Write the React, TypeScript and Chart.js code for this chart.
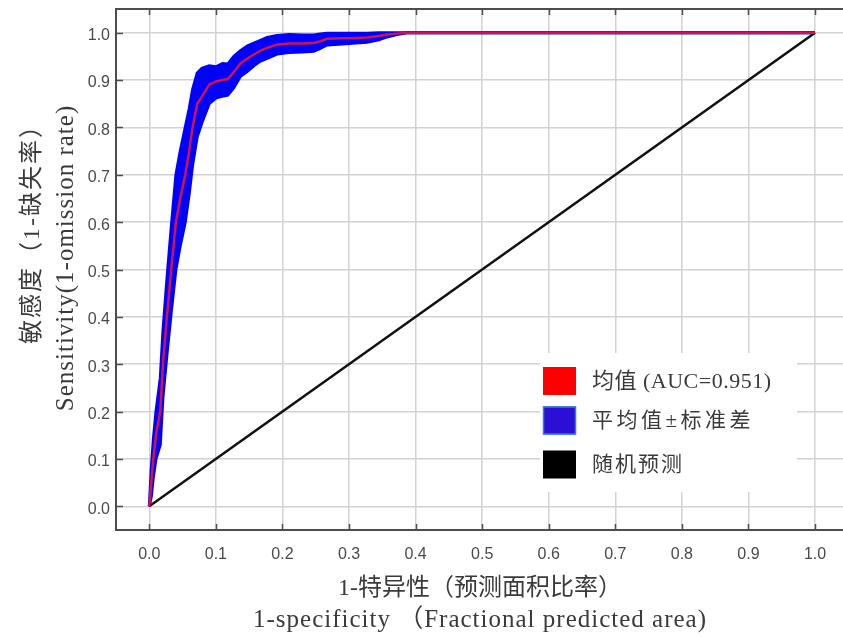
import React, { useEffect, useRef } from "react";
import { Chart, registerables } from "chart.js";

Chart.register(...registerables);

// False positive rate (1 - specificity) sampling points
const fpr = [
  0, 0.003, 0.006, 0.01, 0.0165, 0.0205, 0.0265, 0.033, 0.04, 0.0465, 0.054, 0.06, 0.065, 0.072,
  0.079, 0.09, 0.1, 0.11, 0.118, 0.127, 0.137, 0.147, 0.157, 0.167, 0.177, 0.192, 0.21, 0.23,
  0.247, 0.257, 0.267, 0.29, 0.31, 0.327, 0.345, 0.357, 0.372, 0.387, 0.4, 1.0,
];
// Mean sensitivity
const meanSens = [
  0, 0.05, 0.1, 0.15, 0.2, 0.3, 0.4, 0.5, 0.6, 0.65, 0.7, 0.75, 0.8, 0.85, 0.865, 0.89, 0.897,
  0.9, 0.902, 0.917, 0.935, 0.945, 0.954, 0.962, 0.968, 0.975, 0.977, 0.977, 0.978, 0.982, 0.987,
  0.988, 0.989, 0.99, 0.993, 0.996, 0.998, 1.0, 1.0, 1.0,
];
// Mean + standard deviation
const upperSens = [
  0, 0.08, 0.14, 0.2, 0.27, 0.37, 0.48, 0.59, 0.7, 0.75, 0.8, 0.84, 0.88, 0.915, 0.925, 0.93,
  0.928, 0.935, 0.934, 0.95, 0.962, 0.972, 0.978, 0.984, 0.99, 0.994, 0.996, 0.995, 0.995, 0.997,
  0.999, 0.999, 0.999, 0.999, 1.0, 1.0, 1.0, 1.0, 1.0, 1.0,
];
// Mean - standard deviation
const lowerSens = [
  0, 0.02, 0.06, 0.1, 0.13, 0.23, 0.32, 0.41, 0.5, 0.55, 0.6, 0.66, 0.72, 0.78, 0.81, 0.85,
  0.862, 0.866, 0.868, 0.884, 0.908, 0.918, 0.93, 0.94, 0.946, 0.955, 0.958, 0.959, 0.961, 0.967,
  0.974, 0.976, 0.978, 0.98, 0.985, 0.991, 0.996, 1.0, 1.0, 1.0,
];
// Random prediction line
const randomX = [0, 1];
const randomY = [0, 1];

const tickValues = [0, 0.1, 0.2, 0.3, 0.4, 0.5, 0.6, 0.7, 0.8, 0.9, 1.0];

const legendLabels = ["均值 (AUC=0.951)", "平均值±标准差", "随机预测"];
const legendColors = ["#ff0000", "#2a10d6", "#000000"];

const xTitleLines = ["1-特异性（预测面积比率）", "1-specificity （Fractional predicted area)"];
const yTitleLines = ["敏感度（1-缺失率）", "Sensitivity(1-omission rate)"];

const toPoints = (xs: number[], ys: number[]) => xs.map((x, i) => ({ x, y: ys[i] }));

const textColor = "#3a3a3a";

const framePlugin = {
  id: "frameAndText",
  afterDatasetsDraw(chart: any) {
    const ctx = chart.ctx as any;
    const { left, top, right, bottom } = chart.chartArea;
    const xs = chart.scales.x;
    const ys = chart.scales.y;
    ctx.save();
    // frame
    ctx.strokeStyle = "#4d4d4d";
    ctx.lineWidth = 2;
    ctx.beginPath();
    ctx.moveTo(right + 2, top);
    ctx.lineTo(left, top);
    ctx.lineTo(left, bottom);
    ctx.lineTo(right + 2, bottom);
    ctx.stroke();
    // inward ticks
    ctx.lineWidth = 1.5;
    ctx.beginPath();
    tickValues.forEach((v) => {
      const px = Math.round(xs.getPixelForValue(v)) + 0.5;
      ctx.moveTo(px, top);
      ctx.lineTo(px, top + 6);
      ctx.moveTo(px, bottom);
      ctx.lineTo(px, bottom - 6);
      const py = Math.round(ys.getPixelForValue(v)) + 0.5;
      ctx.moveTo(left, py);
      ctx.lineTo(left + 7, py);
    });
    ctx.stroke();

    // legend
    ctx.fillStyle = "#ffffff";
    ctx.fillRect(540, 353, 257, 139);
    const rowY = [381, 420.5, 464.5];
    const rowSize = [22, 21, 21];
    const rowSpacing = ["0.5px", "3.5px", "2px"];
    legendLabels.forEach((lab, i) => {
      const cy = rowY[i];
      ctx.fillStyle = legendColors[i];
      ctx.fillRect(543, cy - 14, 33, 28);
      if (i === 1) {
        ctx.strokeStyle = "#2f7fe0";
        ctx.lineWidth = 1.5;
        ctx.strokeRect(543.5, cy - 13.5, 32, 27);
      }
      ctx.fillStyle = textColor;
      ctx.font = `${rowSize[i]}px "Liberation Serif", "Noto Sans CJK SC"`;
      ctx.letterSpacing = rowSpacing[i];
      ctx.textAlign = "left";
      ctx.textBaseline = "middle";
      ctx.fillText(lab, 592, cy + 1);
    });

    // x axis titles
    ctx.fillStyle = textColor;
    ctx.textAlign = "center";
    ctx.textBaseline = "middle";
    ctx.font = '24px "Liberation Serif", "Noto Sans CJK SC"';
    ctx.letterSpacing = "0px";
    ctx.fillText(xTitleLines[0], 480, 589);
    ctx.font = '25px "Liberation Serif", "Noto Sans CJK SC"';
    ctx.letterSpacing = "1px";
    ctx.fillText(xTitleLines[1], 480, 620);

    // y axis titles
    ctx.save();
    ctx.translate(33, 228);
    ctx.rotate(-Math.PI / 2);
    ctx.font = '24px "Liberation Serif", "Noto Sans CJK SC"';
    ctx.letterSpacing = "2px";
    ctx.fillText(yTitleLines[0], 0, 0);
    ctx.restore();
    ctx.save();
    ctx.translate(66, 258);
    ctx.rotate(-Math.PI / 2);
    ctx.font = '25px "Liberation Serif", "Noto Sans CJK SC"';
    ctx.letterSpacing = "1px";
    ctx.fillText(yTitleLines[1], 0, 0);
    ctx.restore();

    ctx.letterSpacing = "0px";
    ctx.restore();
  },
};

export default function App() {
  const canvasRef = useRef<HTMLCanvasElement | null>(null);

  useEffect(() => {
    if (!canvasRef.current) return;
    const setTicks = (scale: any) => {
      scale.ticks = tickValues.map((v) => ({ value: v }));
    };
    const clearPad = (scale: any) => {
      scale.paddingTop = 0;
      scale.paddingBottom = 0;
      scale.paddingLeft = 0;
      scale.paddingRight = 0;
    };
    const chart = new Chart(canvasRef.current, {
      type: "line",
      data: {
        datasets: [
          {
            label: "upper",
            data: toPoints(fpr, upperSens),
            borderColor: "#0000ff",
            backgroundColor: "#0000ff",
            borderWidth: 3,
            pointRadius: 0,
            tension: 0,
            fill: "+1",
            order: 3,
          },
          {
            label: "lower",
            data: toPoints(fpr, lowerSens),
            borderColor: "#0000ff",
            backgroundColor: "#0000ff",
            borderWidth: 3,
            pointRadius: 0,
            tension: 0,
            fill: false,
            order: 2,
          },
          {
            label: "random",
            data: toPoints(randomX, randomY),
            borderColor: "#111111",
            borderWidth: 2.5,
            pointRadius: 0,
            tension: 0,
            fill: false,
            order: 1,
          },
          {
            label: "mean",
            data: toPoints(fpr, meanSens),
            borderColor: "rgba(238,20,50,0.88)",
            borderWidth: 2.5,
            pointRadius: 0,
            tension: 0,
            fill: false,
            order: 0,
          },
        ],
      },
      options: {
        animation: false,
        responsive: false,
        devicePixelRatio: 1,
        layout: { padding: { left: 88, top: 9, right: 0, bottom: 75 } },
        plugins: { legend: { display: false }, tooltip: { enabled: false }, title: { display: false } },
        scales: {
          x: {
            type: "linear",
            min: -0.05,
            max: 1.042,
            afterBuildTicks: setTicks,
            afterFit: (s: any) => {
              s.height = 32;
              clearPad(s);
            },
            border: { display: false },
            grid: { color: "#d2d2d2", lineWidth: 1.5, drawTicks: false },
            ticks: {
              padding: 15,
              color: "#4a4a4a",
              font: { family: "Liberation Sans", size: 16 },
              callback: (v: any) => Number(v).toFixed(1),
              maxRotation: 0,
              autoSkip: false,
            },
          },
          y: {
            type: "linear",
            min: -0.05,
            max: 1.05,
            afterBuildTicks: setTicks,
            afterFit: (s: any) => {
              s.width = 28;
              clearPad(s);
            },
            border: { display: false },
            grid: { color: "#d2d2d2", lineWidth: 1.5, drawTicks: false },
            ticks: {
              padding: 6,
              labelOffset: 3,
              color: "#4a4a4a",
              font: { family: "Liberation Sans", size: 16 },
              callback: (v: any) => Number(v).toFixed(1),
              autoSkip: false,
            },
          },
        },
      },
      plugins: [framePlugin],
    });
    return () => chart.destroy();
  }, []);

  return (
    <div style={{ position: "fixed", left: 0, top: 0, width: 843, height: 637, background: "#ffffff" }}>
      <canvas ref={canvasRef} width={843} height={637} style={{ width: 843, height: 637 }} />
    </div>
  );
}
